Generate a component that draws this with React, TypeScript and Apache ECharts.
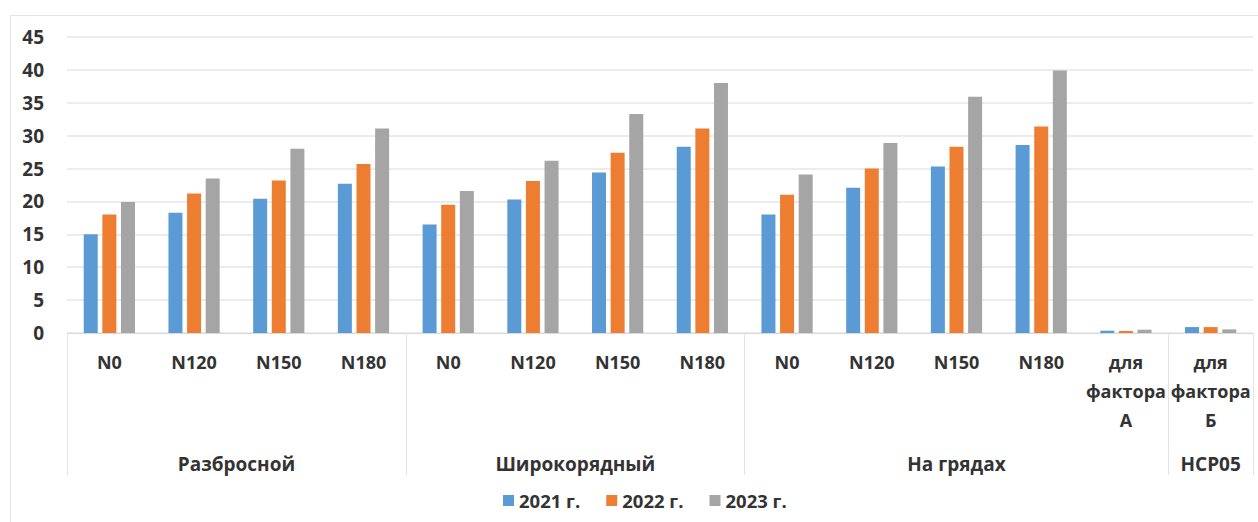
import React, { useEffect, useRef } from "react";
import * as echarts from "echarts";

const categories = [
  "N0", "N120", "N150", "N180",
  "N0", "N120", "N150", "N180",
  "N0", "N120", "N150", "N180",
  "для\nфактора\nА", "для\nфактора\nБ",
];
const groupNames = ["Разбросной", "Широкорядный", "На грядах", "НСР05"];
const groupSpans = [4, 4, 5, 1];
const seriesNames = ["2021 г.", "2022 г.", "2023 г."];
const values2021 = [15.0, 18.3, 20.4, 22.7, 16.5, 20.3, 24.4, 28.3, 18.0, 22.1, 25.3, 28.6, 0.35, 0.9];
const values2022 = [18.0, 21.2, 23.2, 25.7, 19.5, 23.1, 27.4, 31.1, 21.0, 25.0, 28.3, 31.4, 0.3, 0.9];
const values2023 = [19.9, 23.5, 28.0, 31.1, 21.6, 26.2, 33.3, 38.0, 24.1, 28.9, 35.9, 39.9, 0.5, 0.55];
const yTicks = [0, 5, 10, 15, 20, 25, 30, 35, 40, 45];
const colors = ["#5B9BD5", "#ED7D31", "#A5A5A5"];

export default function App() {
  const ref = useRef<HTMLDivElement>(null);
  useEffect(() => {
    if (!ref.current) return;
    const chart = echarts.init(ref.current, null, { renderer: "svg" });
    const font = "'Open Sans', 'Noto Sans', sans-serif";
    const boundaries: number[] = [0];
    const centers: number[] = [];
    let acc = 0;
    groupSpans.forEach((s) => {
      centers.push(acc + s / 2);
      acc += s;
      boundaries.push(acc);
    });
    const allData = [values2021, values2022, values2023];
    chart.setOption({
      animation: false,
      color: colors,
      textStyle: { fontFamily: font },
      graphic: [
        {
          type: "rect",
          shape: { x: 10.5, y: 15.5, width: 1300, height: 600 },
          style: { fill: "none", stroke: "#E3E3E3", lineWidth: 1 },
          silent: true,
        },
      ],
      grid: { left: 67, right: 5, top: 37, bottom: 189, containLabel: false },
      legend: {
        data: seriesNames,
        left: 498,
        top: 486,
        itemWidth: 11,
        itemHeight: 11,
        itemGap: 26,
        icon: "rect",
        textStyle: { fontSize: 18.5, fontWeight: "bold", color: "#333", fontFamily: font },
      },
      xAxis: [
        {
          type: "category",
          data: categories,
          position: "bottom",
          axisLine: { show: true, lineStyle: { color: "#D9D9D9", width: 1 } },
          axisTick: { show: false },
          axisLabel: {
            interval: 0,
            margin: 14,
            lineHeight: 29,
            fontSize: 18,
            fontWeight: "bold",
            color: "#333",
            fontFamily: font,
          },
        },
        {
          type: "value",
          min: 0,
          max: categories.length,
          position: "bottom",
          axisLine: { show: false },
          splitLine: { show: false },
          axisTick: {
            show: true,
            customValues: boundaries,
            length: 142,
            lineStyle: { color: "#E3E3E3", width: 1 },
          },
          axisLabel: {
            show: true,
            customValues: centers,
            margin: 116,
            lineHeight: 29,
            fontSize: 19,
            fontWeight: "bold",
            color: "#333",
            fontFamily: font,
            formatter: (v: number) => {
              const i = centers.findIndex((c) => Math.abs(c - v) < 1e-6);
              return i >= 0 ? groupNames[i] : "";
            },
          },
        },
      ],
      yAxis: {
        type: "value",
        min: 0,
        max: yTicks[yTicks.length - 1],
        interval: yTicks[1] - yTicks[0],
        axisLine: { show: false },
        axisTick: { show: false },
        splitLine: { lineStyle: { color: "#E6E6E6", width: 1.5 } },
        axisLabel: {
          margin: 23,
          fontSize: 19,
          fontWeight: "bold",
          color: "#333",
          fontFamily: font,
        },
      },
      series: seriesNames.map((name, i) => ({
        name,
        type: "bar",
        xAxisIndex: 0,
        data: allData[i],
        barWidth: 14,
        barGap: "33%",
        itemStyle: { color: colors[i] },
      })),
    });
    return () => chart.dispose();
  }, []);
  return (
    <div
      ref={ref}
      style={{ position: "fixed", left: 0, top: 0, width: 1258, height: 522, background: "#fff" }}
    />
  );
}
